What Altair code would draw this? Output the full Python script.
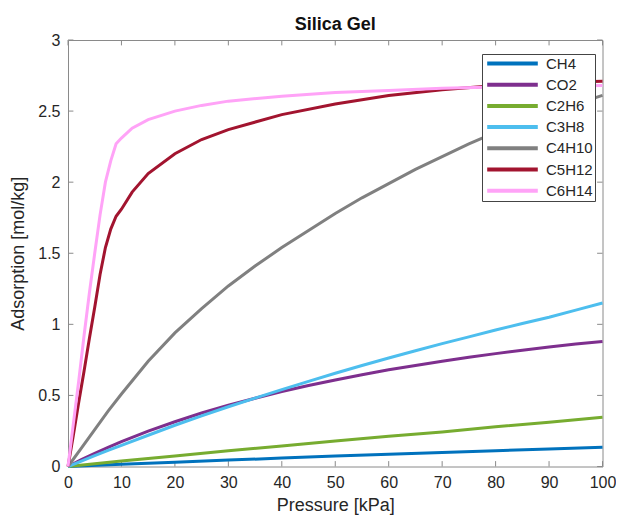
import altair as alt
import pandas as pd

# ---- data ----
gases = ["CH4", "CO2", "C2H6", "C3H8", "C4H10", "C5H12", "C6H14"]
colors = ["#0072BD", "#7E2F8E", "#77AC30", "#4DBEEE", "#808080", "#A2142F", "#FFA3F7"]

P_lin = [0, 10, 20, 30, 40, 50, 60, 70, 80, 90, 100]
CH4 = [0, 0.015, 0.030, 0.045, 0.059, 0.073, 0.086, 0.099, 0.111, 0.123, 0.135]
C2H6 = [0, 0.038, 0.074, 0.110, 0.145, 0.180, 0.212, 0.243, 0.279, 0.312, 0.346]

P_mid = [0, 2.5, 5, 7.5, 10, 15, 20, 25, 30, 35, 40, 45, 50, 55, 60, 65, 70, 75, 80, 85, 90, 95, 100]
CO2 = [0, 0.048, 0.093, 0.135, 0.175, 0.249, 0.315, 0.376, 0.431, 0.480, 0.527, 0.570,
       0.609, 0.646, 0.680, 0.711, 0.740, 0.768, 0.794, 0.818, 0.840, 0.861, 0.880]
C3H8 = [0, 0.038, 0.076, 0.113, 0.149, 0.220, 0.290, 0.356, 0.420, 0.481, 0.541, 0.599,
        0.656, 0.710, 0.763, 0.814, 0.864, 0.912, 0.960, 1.006, 1.050, 1.100, 1.150]
C4H10 = [0, 0.13, 0.26, 0.39, 0.51, 0.74, 0.94, 1.11, 1.27, 1.41, 1.54, 1.66,
         1.78, 1.89, 1.99, 2.09, 2.18, 2.27, 2.35, 2.42, 2.49, 2.55, 2.61]

P_steep = [0, 1, 2, 3, 4, 5, 6, 7, 8, 9, 10, 12, 15, 20, 25, 30, 40, 50, 60, 70, 80, 90, 100]
C5H12 = [0, 0.22, 0.45, 0.67, 0.90, 1.12, 1.35, 1.54, 1.67, 1.76, 1.81, 1.93, 2.06, 2.20,
         2.30, 2.37, 2.475, 2.55, 2.61, 2.65, 2.68, 2.70, 2.71]
C6H14 = [0, 0.30, 0.60, 0.92, 1.22, 1.50, 1.77, 2.00, 2.15, 2.27, 2.31, 2.38, 2.44, 2.50,
         2.54, 2.57, 2.605, 2.63, 2.645, 2.66, 2.67, 2.675, 2.68]

x_ticks = [0, 10, 20, 30, 40, 50, 60, 70, 80, 90, 100]
y_ticks = [0, 0.5, 1, 1.5, 2, 2.5, 3]

series = {
    "CH4": (P_lin, CH4), "CO2": (P_mid, CO2), "C2H6": (P_lin, C2H6),
    "C3H8": (P_mid, C3H8), "C4H10": (P_mid, C4H10), "C5H12": (P_steep, C5H12),
    "C6H14": (P_steep, C6H14),
}
rows = []
for i, g in enumerate(gases):
    ps, vs = series[g]
    for p, v in zip(ps, vs):
        rows.append({"P": p, "A": v, "gas": g, "ord": i})
df = pd.DataFrame(rows)

W, H = 534.5, 426.5
TL = 5.4
FONT = "Liberation Sans"
AX = "#8a8a8a"
TXT = "#262626"

xscale = alt.Scale(domain=[0, 100], nice=False)
yscale = alt.Scale(domain=[0, 3], nice=False)
xaxis = alt.Axis(values=x_ticks, ticks=False, domain=False, grid=False, labelPadding=8,
                 labelFlush=False, labelOverlap=False,
                 title="Pressure [kPa]", titlePadding=6, format="d")
yaxis = alt.Axis(values=y_ticks, ticks=False, domain=False, grid=False, labelPadding=8,
                 labelFlush=False, labelOverlap=False,
                 title="Adsorption [mol/kg]", titlePadding=10, format="~g")

lines = alt.Chart(df).mark_line(strokeWidth=3, interpolate="linear").encode(
    x=alt.X("P:Q", scale=xscale, axis=xaxis),
    y=alt.Y("A:Q", scale=yscale, axis=yaxis),
    color=alt.Color("gas:N", scale=alt.Scale(domain=gases, range=colors),
                    sort=gases,
                    legend=alt.Legend(title=None, orient="none", legendX=414, legendY=14,
                                      symbolType="M-4.6,0H4.6", symbolSize=121,
                                      symbolStrokeWidth=4, symbolOffset=21,
                                      labelFontSize=15, labelFont=FONT, labelColor=TXT,
                                      labelOffset=26, rowPadding=4.2, padding=2, offset=0,
                                      strokeColor="#444444", fillColor="white")),
    order=alt.Order("ord:Q"),
    detail="gas:N",
)

xt = pd.DataFrame({"P": x_ticks})
yt = pd.DataFrame({"A": y_ticks})

bottom = alt.Chart(xt).mark_rule(color=AX, strokeWidth=1).encode(
    x=alt.X("P:Q", scale=xscale, axis=xaxis), y=alt.value(H), y2=alt.value(H - TL))
top = alt.Chart(xt).mark_rule(color=AX, strokeWidth=1).encode(
    x=alt.X("P:Q", scale=xscale, axis=xaxis), y=alt.value(0), y2=alt.value(TL))
left = alt.Chart(yt).mark_rule(color=AX, strokeWidth=1).encode(
    y=alt.Y("A:Q", scale=yscale, axis=yaxis), x=alt.value(0), x2=alt.value(TL))
right = alt.Chart(yt).mark_rule(color=AX, strokeWidth=1).encode(
    y=alt.Y("A:Q", scale=yscale, axis=yaxis), x=alt.value(W), x2=alt.value(W - TL))

chart = alt.layer(bottom, top, left, right, lines).properties(
    width=W, height=H,
    background="white",
    title=alt.TitleParams("Silica Gel", fontSize=18, fontWeight="bold", font=FONT,
                          color="#111111", anchor="middle", offset=8, dy=10),
    autosize=alt.AutoSizeParams(type="none"),
    padding={"left": 60, "top": 32, "right": 13.5, "bottom": 50},
).configure_view(stroke=AX, strokeWidth=1).configure_axis(
    labelFont=FONT, labelFontSize=16, labelColor=TXT,
    titleFont=FONT, titleFontSize=18, titleColor=TXT, titleFontWeight="normal",
)

chart.save("out.html", embed_options={"renderer": "svg", "actions": False})
